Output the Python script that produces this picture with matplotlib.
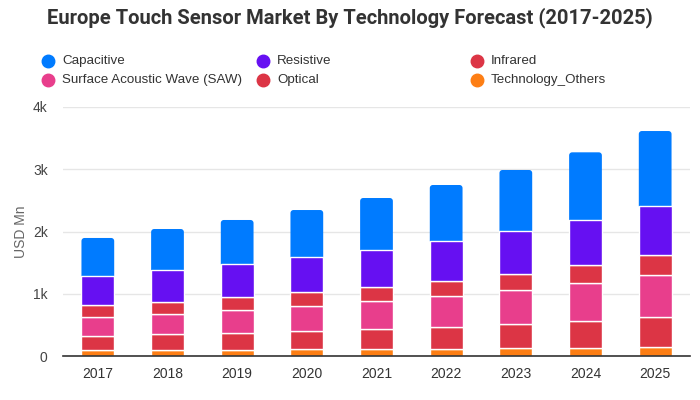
import matplotlib
matplotlib.use("Agg")
import matplotlib.pyplot as plt
from matplotlib.lines import Line2D
from matplotlib.patches import Polygon
import numpy as np

years = ["2017", "2018", "2019", "2020", "2021", "2022", "2023", "2024", "2025"]
others = [92, 92, 92, 108, 108, 108, 124, 124, 140]
optical = [224, 257, 273, 289, 321, 353, 385, 433, 487]
saw = [306, 331, 369, 401, 451, 499, 547, 611, 670]
infrared = [192, 183, 209, 230, 224, 241, 256, 289, 321]
resistive = [466, 514, 530, 558, 594, 642, 691, 728, 787]
capacitive = [616, 663, 712, 759, 840, 904, 985, 1087, 1209]

yticks = [0, 1000, 2000, 3000, 4000]
ytick_labels = ["0", "1k", "2k", "3k", "4k"]

plt.rcParams['font.family'] = ['Liberation Sans', 'DejaVu Sans']

fig = plt.figure(figsize=(7, 4), dpi=100)
ax = fig.add_axes([63/700, 44/400, 627/700, 249/400])
ax.set_xlim(-0.5, len(years) - 0.5)
ax.set_ylim(0, 4000)

stack = [
    ("Technology_Others", others, "#fd7e14"),
    ("Optical", optical, "#dc3545"),
    ("Surface Acoustic Wave (SAW)", saw, "#e83e8c"),
    ("Infrared", infrared, "#dc3545"),
    ("Resistive", resistive, "#6610f2"),
    ("Capacitive", capacitive, "#007bff"),
]
width = 0.47
x = np.arange(len(years))
bottom = np.zeros(len(years))
colors = {}
px_x = len(years) / 627.0
px_y = 4000 / 249.0
rx = 3 * px_x
ry = 3 * px_y


def top_rounded(x0, y0, w, h):
    pts = [(x0, y0), (x0 + w, y0), (x0 + w, y0 + h - ry)]
    t = np.linspace(0, np.pi / 2, 8)
    cx, cy = x0 + w - rx, y0 + h - ry
    pts += [(cx + rx * np.cos(a), cy + ry * np.sin(a)) for a in t]
    cx = x0 + rx
    pts += [(cx + rx * np.cos(a), cy + ry * np.sin(a)) for a in t + np.pi / 2]
    pts.append((x0, y0))
    return pts


for name, vals, col in stack:
    colors[name] = col
    if name == "Capacitive":
        for xi, b, v in zip(x, bottom, vals):
            ax.add_patch(Polygon(top_rounded(xi - width / 2, b, width, v),
                                 closed=True, facecolor=col, edgecolor="none",
                                 zorder=3))
    else:
        ax.bar(x, vals, width=width, bottom=bottom, color=col, edgecolor="white",
               linewidth=1.0, zorder=4)
    bottom += np.array(vals)

ax.set_yticks(yticks)
ax.set_yticklabels(ytick_labels)
ax.set_xticks(x)
ax.set_xticklabels(years)
ax.grid(axis="y", color="#e6e6e6", linewidth=1, zorder=0)
for s in ["top", "right", "left"]:
    ax.spines[s].set_visible(False)
ax.spines["bottom"].set_color("#333333")
ax.spines["bottom"].set_linewidth(1.2)
ax.spines["bottom"].set_zorder(5)
ax.tick_params(axis="y", length=0, pad=11, labelsize=10, labelcolor="#444444")
ax.tick_params(axis="x", length=0, pad=8, labelsize=10, labelcolor="#333333")
ax.set_ylabel("USD Mn", fontsize=10, color="#666666")
ax.yaxis.set_label_coords(-35 / 627, 0.5)

fig.text(0.5, 1 - 18/400, "Europe Touch Sensor Market By Technology Forecast (2017-2025)",
         ha="center", va="center", fontsize=14.5, fontweight="bold", color="#333333",
         family=["Roboto", "DejaVu Sans"])

legend_order = ["Capacitive", "Resistive", "Infrared",
                "Surface Acoustic Wave (SAW)", "Optical", "Technology_Others"]
xs = [48, 263, 477]
ys = [61, 80]
for i, name in enumerate(legend_order):
    cx = xs[i % 3]
    cy = ys[i // 3]
    fig.add_artist(Line2D([cx / 700], [1 - cy / 400], marker="o", markersize=9,
                          color=colors[name], linestyle="none",
                          transform=fig.transFigure))
    fig.text((cx + 14) / 700, 1 - cy / 400, name, ha="left", va="center",
             fontsize=9.6, color="#333333")

fig.savefig("out.png", dpi=100)
